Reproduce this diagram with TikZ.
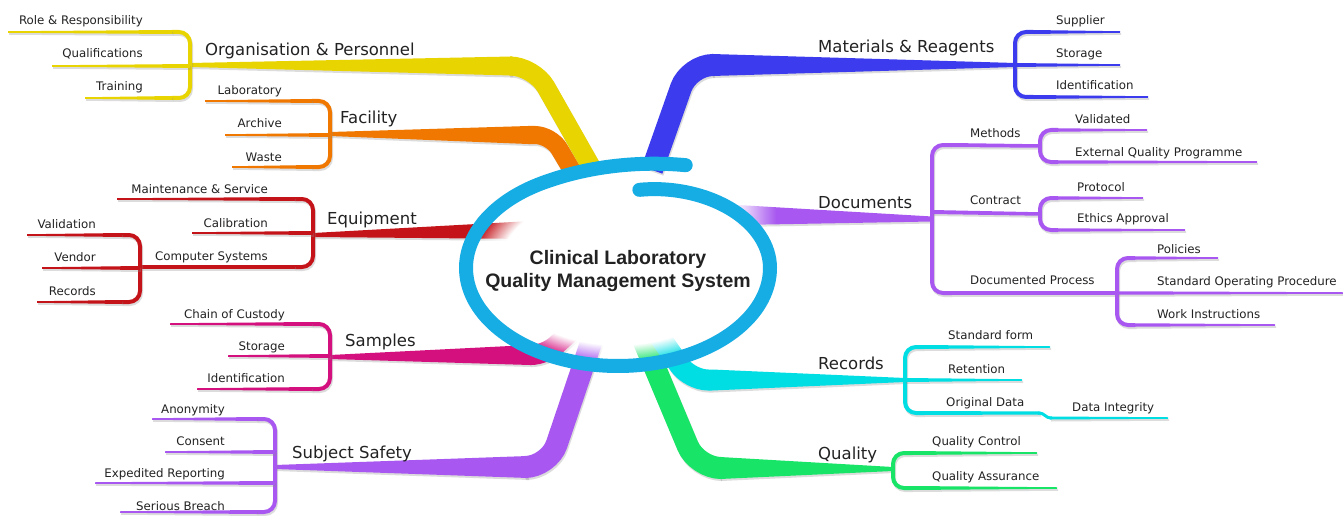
\documentclass[tikz,border=0pt]{standalone}
\usepackage{fontspec}
\setmainfont{DejaVu Sans}
\newfontfamily\hubfont{Liberation Sans}
\usetikzlibrary{fadings,calc}

% branch colours
\definecolor{cOrg}{RGB}{232,212,0}
\definecolor{cFac}{RGB}{240,120,0}
\definecolor{cEqu}{RGB}{196,20,26}
\definecolor{cSam}{RGB}{212,16,126}
\definecolor{cSub}{RGB}{168,88,240}
\definecolor{cMat}{RGB}{60,60,238}
\definecolor{cDoc}{RGB}{168,88,240}
\definecolor{cRec}{RGB}{0,222,228}
\definecolor{cQua}{RGB}{24,228,104}
\definecolor{cHub}{RGB}{22,172,228}
\definecolor{cShadow}{RGB}{140,140,140}
\definecolor{cText}{RGB}{34,34,34}

% soft white centre of the hub: opaque inside, transparent towards the rim
\pgfdeclareradialshading{hubfadeshading}{\pgfpointorigin}{color(0bp)=(white); color(19.5bp)=(white); color(24.25bp)=(black); color(50bp)=(black)}
\pgfdeclarefading{hubfade}{\pgfuseshading{hubfadeshading}}
\tikzfading[name=fade right, left color=transparent!0, right color=transparent!100]

\tikzset{
  shd/.style={color=cShadow, opacity=.3, shift={(1,2)}},
  sublabel/.style={font=\fontsize{11.8}{14}\selectfont, text=cText, inner sep=0pt},
  mainlabel/.style={font=\fontsize{16.5}{19}\selectfont, text=cText, inner sep=0pt},
  hubtext/.style={font=\hubfont\bfseries\fontsize{19.5}{23}\selectfont, text=cText, inner sep=0pt},
}

% tapered band with its shadow: colour, x1, y1, w1, x2, y2, w2
\newcommand\mmbandpart[7]{%
  \fill[#1] ({#2},{#3-#4/2}) -- ({#5},{#6-#7/2}) -- ({#5},{#6+#7/2}) -- ({#2},{#3+#4/2}) -- cycle;}
\newcommand\mmband[7]{\mmbandpart{shd}{#2}{#3}{#4}{#5}{#6}{#7}\mmbandpart{#1}{#2}{#3}{#4}{#5}{#6}{#7}}
% main branch: thick bend near the hub, then a tapered band
% [radius] style, start, corner, end, width, x2, y2, w2
\newcommand\mmmainpart[9][24]{%
  \draw[#2, line width=#6, rounded corners=#1] (#3) -- (#4) -- (#5);
  \fill[#2] ($(#5)+(0,{-#6/2})$) -- ({#7},{#8-#9/2}) -- ({#7},{#8+#9/2}) -- ($(#5)+(0,{#6/2})$) -- cycle;}
\newcommand\mmmain[9][24]{%
  \mmmainpart[#1]{shd}{#3}{#4}{#5}{#6}{#7}{#8}{#9}%
  \mmmainpart[#1]{#2}{#3}{#4}{#5}{#6}{#7}{#8}{#9}}
% bracket opening to the left / right: colour, x, ytop, ybottom
\newcommand\mmbrpart[5]{%
  \draw[#1, line width=4, rounded corners=11] ({#2#318},#4) -- (#2,#4) -- (#2,#5) -- ({#2#318},#5);}
\newcommand\mmbrL[4]{\mmbrpart{shd}{#2}{-}{#3}{#4}\mmbrpart{#1}{#2}{-}{#3}{#4}}
\newcommand\mmbrR[4]{\mmbrpart{shd}{#2}{+}{#3}{#4}\mmbrpart{#1}{#2}{+}{#3}{#4}}

\begin{document}
\begin{tikzpicture}[x=1pt,y=-1pt]
\useasboundingbox (0,0) rectangle (1343,516);
\fill[white] (0,0) rectangle (1343,516);

% ---- main branches leaving the hub ----
\mmmain[16]{cFac}{573,172}{551,135}{528,135}{18}{330}{134}{4}
\mmmain{cOrg}{593,170}{534,66}{512,66}{19}{190}{65}{4}
\mmmain{cMat}{652,170}{689,65}{712,65}{22}{1015}{65}{4}
\mmband{cEqu}{531}{230}{18}{313}{235}{4}
\mmmain[14]{cSam}{575,328}{545,355}{530,355}{20}{330}{357}{4}
\mmmain{cSub}{597,325}{549,467}{528,467}{22}{275}{467}{4}
\mmmain{cQua}{637,325}{697,468}{720,468}{22}{893}{469}{4}
\mmmain[18]{cRec}{655,330}{690,380}{712,380}{21}{905}{380}{4}
\mmband{cDoc}{738}{215}{20}{932}{219}{5}

% ---- hub ----
\fill[white, path fading=hubfade] (618,268) ellipse [x radius=152, y radius=98];
\fill[white, path fading=fade right] (734,200) rectangle (776,232);
\draw[cHub, line width=14, line cap=round]
  plot[domain=80:-293, samples=160, smooth]
  ({618+152*(1-0.19*(max(\x,0)/80)^2+0.14*(max(-240-\x,0)/53)^2)*cos(\x)},
   {268-98*(1-0.19*(max(\x,0)/80)^2+0.14*(max(-240-\x,0)/53)^2)*sin(\x)});
\node[hubtext, anchor=base] (hubA) at (618,264) {Clinical Laboratory};
\node[hubtext, anchor=base] (hubB) at (618,287) {Quality Management System};

% ---- Organisation & Personnel ----
\mmbrL{cOrg}{190}{32}{98}
\mmband{cOrg}{172}{32}{4}{8}{32}{1.5}
\mmband{cOrg}{190}{66}{4}{52}{66}{1.5}
\mmband{cOrg}{172}{98}{4}{85}{98}{1.5}
\node[mainlabel, anchor=base west] (org) at (205,56) {Organisation \& Personnel};
\node[sublabel, anchor=base east] (org1) at (143,25) {Role \& Responsibility};
\node[sublabel, anchor=base east] (org2) at (143,58) {Qualifications};
\node[sublabel, anchor=base east] (org3) at (143,91) {Training};

% ---- Facility ----
\mmbrL{cFac}{330}{101}{167}
\mmband{cFac}{312}{101}{4}{205}{101}{1.5}
\mmband{cFac}{330}{135}{4}{225}{135}{1.5}
\mmband{cFac}{312}{167}{4}{232}{167}{1.5}
\node[mainlabel, anchor=base west] (fac) at (340,124) {Facility};
\node[sublabel, anchor=base east] (fac1) at (282,95) {Laboratory};
\node[sublabel, anchor=base east] (fac2) at (282,128) {Archive};
\node[sublabel, anchor=base east] (fac3) at (282,161) {Waste};

% ---- Equipment ----
\mmbrL{cEqu}{313}{199}{267}
\mmband{cEqu}{295}{199}{4}{117}{199}{1.5}
\mmband{cEqu}{313}{233}{4}{192}{233}{1.5}
\mmband{cEqu}{295}{267}{4.5}{140}{267}{4.5}
\mmbrL{cEqu}{140}{235}{302}
\mmband{cEqu}{122}{235}{4}{27}{235}{1.5}
\mmband{cEqu}{140}{268}{4}{42}{268}{1.5}
\mmband{cEqu}{122}{302}{4}{37}{302}{1.5}
\node[mainlabel, anchor=base west] (equ) at (327,224) {Equipment};
\node[sublabel, anchor=base east] (equ1) at (268,193) {Maintenance \& Service};
\node[sublabel, anchor=base east] (equ2) at (268,227) {Calibration};
\node[sublabel, anchor=base east] (equ3) at (268,260) {Computer Systems};
\node[sublabel, anchor=base east] (equ4) at (96,228) {Validation};
\node[sublabel, anchor=base east] (equ5) at (96,261) {Vendor};
\node[sublabel, anchor=base east] (equ6) at (96,295) {Records};

% ---- Samples ----
\mmbrL{cSam}{330}{324}{389}
\mmband{cSam}{312}{324}{4}{170}{324}{1.5}
\mmband{cSam}{330}{356}{4}{228}{356}{1.5}
\mmband{cSam}{312}{389}{4}{197}{389}{1.5}
\node[mainlabel, anchor=base west] (sam) at (345,346) {Samples};
\node[sublabel, anchor=base east] (sam1) at (285,318) {Chain of Custody};
\node[sublabel, anchor=base east] (sam2) at (285,350) {Storage};
\node[sublabel, anchor=base east] (sam3) at (285,382) {Identification};

% ---- Subject Safety ----
\mmbrL{cSub}{275}{419}{512}
\mmband{cSub}{257}{419}{4}{152}{419}{1.5}
\mmband{cSub}{275}{452}{4}{165}{452}{1.5}
\mmband{cSub}{275}{483}{4}{95}{483}{1.5}
\mmband{cSub}{257}{512}{4}{120}{512}{1.5}
\node[mainlabel, anchor=base west] (sub) at (292,458) {Subject Safety};
\node[sublabel, anchor=base east] (sub1) at (225,413) {Anonymity};
\node[sublabel, anchor=base east] (sub2) at (225,445) {Consent};
\node[sublabel, anchor=base east] (sub3) at (225,477) {Expedited Reporting};
\node[sublabel, anchor=base east] (sub4) at (225,510) {Serious Breach};

% ---- Materials & Reagents ----
\mmbrR{cMat}{1015}{32}{97}
\mmband{cMat}{1033}{32}{4}{1120}{32}{1.5}
\mmband{cMat}{1015}{65}{4}{1120}{65}{1.5}
\mmband{cMat}{1033}{97}{4}{1148}{97}{1.5}
\node[mainlabel, anchor=base west] (mat) at (818,53) {Materials \& Reagents};
\node[sublabel, anchor=base west] (mat1) at (1056,25) {Supplier};
\node[sublabel, anchor=base west] (mat2) at (1056,58) {Storage};
\node[sublabel, anchor=base west] (mat3) at (1056,90) {Identification};

% ---- Documents ----
\mmbrR{cDoc}{932}{145}{293}
\mmband{cDoc}{950}{145}{4}{1040}{146}{3.5}
\mmband{cDoc}{932}{212}{4}{1040}{214}{3.5}
\mmband{cDoc}{950}{293}{4}{1117}{293}{3.5}
\mmbrR{cDoc}{1040}{130}{162}
\mmband{cDoc}{1058}{130}{3.5}{1147}{130}{1.5}
\mmband{cDoc}{1058}{162}{3.5}{1257}{162}{1.5}
\mmbrR{cDoc}{1040}{198}{230}
\mmband{cDoc}{1058}{198}{3.5}{1143}{198}{1.5}
\mmband{cDoc}{1058}{230}{3.5}{1185}{230}{1.5}
\mmbrR{cDoc}{1117}{258}{325}
\mmband{cDoc}{1135}{258}{3.5}{1218}{258}{1.5}
\mmband{cDoc}{1117}{293}{3.5}{1343}{293}{1.5}
\mmband{cDoc}{1135}{325}{3.5}{1275}{325}{1.5}
\node[mainlabel, anchor=base west] (doc) at (818,208) {Documents};
\node[sublabel, anchor=base west] (doc1) at (970,138) {Methods};
\node[sublabel, anchor=base west] (doc2) at (1075,124) {Validated};
\node[sublabel, anchor=base west] (doc3) at (1075,156) {External Quality Programme};
\node[sublabel, anchor=base west] (doc4) at (970,204) {Contract};
\node[sublabel, anchor=base west] (doc5) at (1077,191) {Protocol};
\node[sublabel, anchor=base west] (doc6) at (1077,222) {Ethics Approval};
\node[sublabel, anchor=base west] (doc7) at (970,284) {Documented Process};
\node[sublabel, anchor=base west] (doc8) at (1157,253) {Policies};
\node[sublabel, anchor=base west] (doc9) at (1157,285) {Standard Operating Procedure};
\node[sublabel, anchor=base west] (doc10) at (1157,318) {Work Instructions};

% ---- Records ----
\mmbrR{cRec}{905}{347}{413}
\mmband{cRec}{923}{347}{4}{1050}{347}{1.5}
\mmband{cRec}{905}{380}{4}{1022}{380}{1.5}
\mmband{cRec}{923}{413}{4}{1040}{413}{3}
\draw[cRec, line width=3] (1038,413) .. controls (1046,413) and (1044,418) .. (1052,418);
\mmband{cRec}{1050}{418}{3}{1168}{418}{1.5}
\node[mainlabel, anchor=base west] (rec) at (818,369) {Records};
\node[sublabel, anchor=base west] (rec1) at (948,339) {Standard form};
\node[sublabel, anchor=base west] (rec2) at (948,373) {Retention};
\node[sublabel, anchor=base west] (rec3) at (946,406) {Original Data};
\node[sublabel, anchor=base west] (rec4) at (1072,411) {Data Integrity};

% ---- Quality ----
\mmbrR{cQua}{893}{453}{488}
\mmband{cQua}{911}{453}{4}{1037}{453}{1.5}
\mmband{cQua}{911}{488}{4}{1057}{488}{1.5}
\node[mainlabel, anchor=base west] (qua) at (818,459) {Quality};
\node[sublabel, anchor=base west] (qua1) at (932,445) {Quality Control};
\node[sublabel, anchor=base west] (qua2) at (932,480) {Quality Assurance};
\end{tikzpicture}
\end{document}
